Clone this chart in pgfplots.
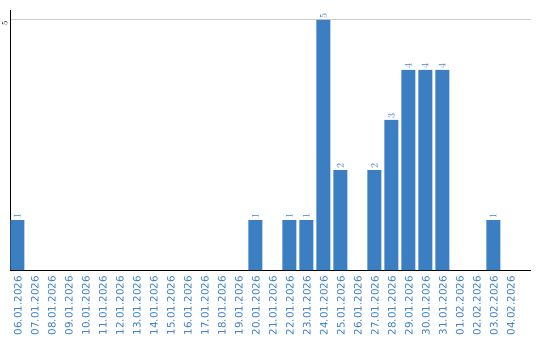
\documentclass[border=0pt]{standalone}
\usepackage{pgfplots}
\pgfplotsset{compat=1.18}
\usepackage{fontspec}
\setmainfont{DejaVu Sans}
\definecolor{barblue}{HTML}{3B7EC2}
\definecolor{gridgray}{HTML}{CCCCCC}
\begin{document}
\begin{tikzpicture}
\path[use as bounding box] (0pt,0pt) rectangle (540pt,340pt);
\begin{axis}[
  at={(10.5pt,70pt)}, anchor=south west,
  scale only axis, width=520.5pt, height=260pt,
  xmin=-0.4, xmax=30.22, ymin=0, ymax=5.2,
  axis x line*=bottom, axis y line*=left,
  axis line style={black, line width=1pt, -},
  major tick length=0pt,
  xtick={0,...,29},
  xticklabels={06.01.2026,07.01.2026,08.01.2026,09.01.2026,10.01.2026,11.01.2026,12.01.2026,13.01.2026,14.01.2026,15.01.2026,16.01.2026,17.01.2026,18.01.2026,19.01.2026,20.01.2026,21.01.2026,22.01.2026,23.01.2026,24.01.2026,25.01.2026,26.01.2026,27.01.2026,28.01.2026,29.01.2026,30.01.2026,31.01.2026,01.02.2026,02.02.2026,03.02.2026,04.02.2026},
  xticklabel style={rotate=90, anchor=east, inner sep=0pt, xshift=-6pt, yshift=-0.5pt, text=barblue, font=\fontsize{10.3}{12}\selectfont},
  ytick={5},
  yticklabel style={rotate=90, anchor=south, inner sep=0pt, xshift=-3pt, yshift=3pt, font=\fontsize{8.5}{10}\selectfont},
  ymajorgrids, major grid style={gridgray, line width=1pt},
  y filter/.expression={y==0 ? nan : y},
  nodes near coords,
  every node near coord/.append style={rotate=90, anchor=west, inner sep=1.5pt, text=barblue, font=\fontsize{10.3}{12}\selectfont},
  clip=false,
]
\addplot[ybar, bar width=14pt, fill=barblue, draw=none] coordinates {
(0,1) (1,0) (2,0) (3,0) (4,0) (5,0) (6,0) (7,0) (8,0) (9,0)
(10,0) (11,0) (12,0) (13,0) (14,1) (15,0) (16,1) (17,1) (18,5) (19,2)
(20,0) (21,2) (22,3) (23,4) (24,4) (25,4) (26,0) (27,0) (28,1) (29,0)
};
\end{axis}
\end{tikzpicture}
\end{document}
